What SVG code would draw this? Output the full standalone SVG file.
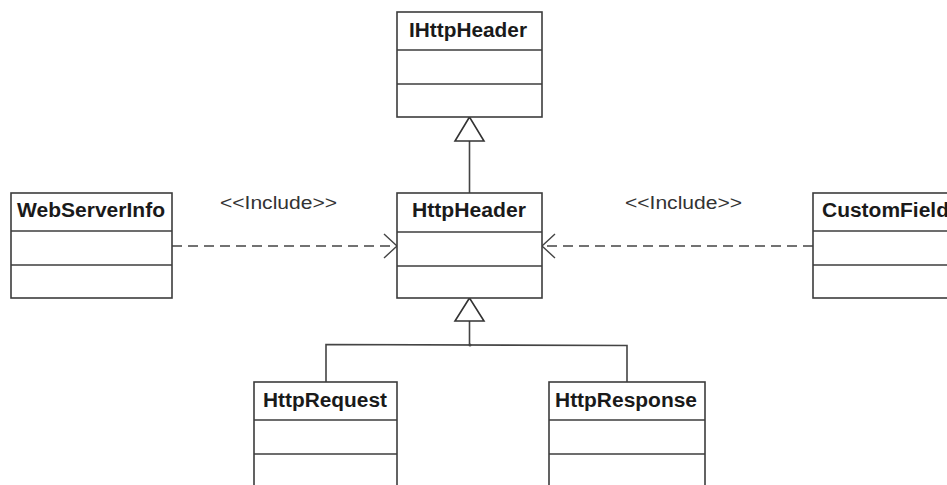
<svg xmlns="http://www.w3.org/2000/svg" width="947" height="485" viewBox="0 0 947 485">
<style>
.box{fill:#ffffff;stroke:#3c3c3c;stroke-width:1.6}
.div{stroke:#3c3c3c;stroke-width:1.6}
.name{font-family:"Liberation Sans",Arial,sans-serif;font-weight:bold;font-size:19.5px;fill:#1a1a1a}
.lbl{font-family:"Liberation Sans",Arial,sans-serif;font-size:18px;fill:#333333}
.ln{fill:none;stroke:#444444;stroke-width:1.6}
.dash{fill:none;stroke:#444444;stroke-width:1.6;stroke-dasharray:10 6}
.tri{fill:#ffffff;stroke:#333333;stroke-width:1.6}
</style>
<defs>
<marker id="open" markerUnits="userSpaceOnUse" markerWidth="16" markerHeight="26" refX="13" refY="12" orient="auto" viewBox="-1 -1 16 26">
<path d="M0,0 L13,12 L0,24" fill="none" stroke="#444444" stroke-width="1.4"/>
</marker>
</defs>
<rect width="947" height="485" fill="#ffffff"/>
<g id="connectors">
<line class="ln" x1="469.5" y1="141" x2="469.5" y2="193"/>
<polygon class="tri" points="469.5,117 455,141 484,141"/>
<line class="ln" x1="469.5" y1="321" x2="469.5" y2="345"/>
<polyline class="ln" points="326,382 326,344.5 627,345.5 627,382"/>
<circle cx="470" cy="345" r="1.5" fill="#444444"/>
<polygon class="tri" points="469.5,298 455,321 484,321"/>
<line class="dash" x1="172" y1="246" x2="397" y2="246" marker-end="url(#open)"/>
<line class="dash" x1="813" y1="246" x2="542" y2="246" marker-end="url(#open)"/>
<text class="lbl" x="220" y="209" textLength="117" lengthAdjust="spacingAndGlyphs">&lt;&lt;Include&gt;&gt;</text>
<text class="lbl" x="625" y="209" textLength="117" lengthAdjust="spacingAndGlyphs">&lt;&lt;Include&gt;&gt;</text>
</g>
<g id="IHttpHeader">
<rect class="box" x="397" y="12" width="145" height="105"/>
<line class="div" x1="397" y1="50" x2="542" y2="50"/>
<line class="div" x1="397" y1="84" x2="542" y2="84"/>
<text class="name" x="409" y="37" textLength="118" lengthAdjust="spacingAndGlyphs">IHttpHeader</text>
</g>
<g id="HttpHeader">
<rect class="box" x="397" y="193" width="145" height="105"/>
<line class="div" x1="397" y1="232" x2="542" y2="232"/>
<line class="div" x1="397" y1="266" x2="542" y2="266"/>
<text class="name" x="412" y="217" textLength="114" lengthAdjust="spacingAndGlyphs">HttpHeader</text>
</g>
<g id="WebServerInfo">
<rect class="box" x="11" y="193" width="161" height="105"/>
<line class="div" x1="11" y1="231" x2="172" y2="231"/>
<line class="div" x1="11" y1="265" x2="172" y2="265"/>
<text class="name" x="17" y="217" textLength="148" lengthAdjust="spacingAndGlyphs">WebServerInfo</text>
</g>
<g id="CustomField">
<rect class="box" x="813" y="193" width="150" height="105"/>
<line class="div" x1="813" y1="231" x2="963" y2="231"/>
<line class="div" x1="813" y1="265" x2="963" y2="265"/>
<text class="name" x="822" y="217" textLength="127" lengthAdjust="spacingAndGlyphs">CustomField</text>
</g>
<g id="HttpRequest">
<rect class="box" x="254" y="382" width="143" height="115"/>
<line class="div" x1="254" y1="420" x2="397" y2="420"/>
<line class="div" x1="254" y1="454" x2="397" y2="454"/>
<text class="name" x="263" y="407" textLength="124" lengthAdjust="spacingAndGlyphs">HttpRequest</text>
</g>
<g id="HttpResponse">
<rect class="box" x="549" y="382" width="156" height="115"/>
<line class="div" x1="549" y1="420" x2="705" y2="420"/>
<line class="div" x1="549" y1="454" x2="705" y2="454"/>
<text class="name" x="555" y="407" textLength="142" lengthAdjust="spacingAndGlyphs">HttpResponse</text>
</g>
</svg>
